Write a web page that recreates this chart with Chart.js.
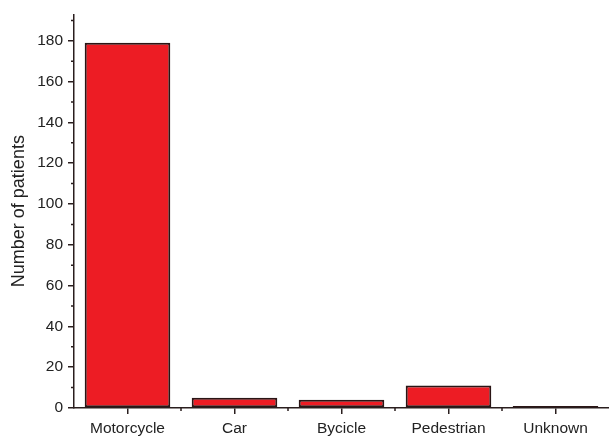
<!DOCTYPE html>
<html>
<head>
<meta charset="utf-8">
<script src="https://cdn.jsdelivr.net/npm/chart.js@4"></script>
<style>
  html, body { margin: 0; padding: 0; background: #fff; }
  #wrap { width: 609px; height: 437px; position: relative; }
</style>
</head>
<body>
<div id="wrap"><canvas id="barChart"></canvas></div>
<script>
var categories = ['Motorcycle', 'Car', 'Bycicle', 'Pedestrian', 'Unknown'];
var patients = [179, 5, 4, 11, 1];
var yMinorTicks = [10, 30, 50, 70, 90, 110, 130, 150, 170, 190];

var axisColor = '#2a1e1e';
var textColor = '#222222';

// small ticks between the labelled ones, as in the original plot
var minorTicks = {
  id: 'minorTicks',
  afterDraw: function (chart) {
    var ctx = chart.ctx;
    var x = chart.scales.x, y = chart.scales.y;
    ctx.save();
    ctx.strokeStyle = axisColor;
    ctx.lineWidth = 1.5;
    ctx.beginPath();
    yMinorTicks.forEach(function (v) {
      var py = y.getPixelForValue(v);
      ctx.moveTo(y.right - 3, py);
      ctx.lineTo(y.right, py);
    });
    for (var i = 1; i < categories.length; i++) {
      var px = (x.getPixelForValue(i - 1) + x.getPixelForValue(i)) / 2;
      ctx.moveTo(px, x.top);
      ctx.lineTo(px, x.top + 3);
    }
    ctx.stroke();
    ctx.restore();
  }
};

var ctxBar = document.getElementById('barChart').getContext('2d');

var barChart = new Chart(ctxBar, {
  type: 'bar',
  data: {
    labels: categories,
    datasets: [{
      label: 'Number of patients',
      data: patients,
      backgroundColor: '#ed1c24',
      borderColor: '#2a1515',
      borderWidth: 2,
      borderSkipped: false,
      barPercentage: 0.8,
      categoryPercentage: 1.0
    }]
  },
  options: {
    responsive: true,
    maintainAspectRatio: false,
    animation: false,
    layout: { padding: { top: 13, right: -3, left: 0, bottom: 0 } },
    plugins: {
      legend: { display: false },
      tooltip: { enabled: false }
    },
    scales: {
      x: {
        offset: true,
        grid: {
          display: true,
          offset: false,
          drawOnChartArea: false,
          drawTicks: true,
          tickLength: 6,
          tickColor: axisColor,
          lineWidth: 1.5
        },
        border: { display: true, color: axisColor, width: 1.5 },
        ticks: {
          color: textColor,
          padding: 5,
          maxRotation: 0,
          font: { family: 'Liberation Sans, Arial, sans-serif', size: 15.5 }
        },
        afterFit: function (scale) { scale.height = 29; }
      },
      y: {
        min: 0,
        max: 193,
        grid: {
          display: true,
          drawOnChartArea: false,
          drawTicks: true,
          tickLength: 6,
          tickColor: axisColor,
          lineWidth: 1.5
        },
        border: { display: true, color: axisColor, width: 1.5 },
        title: {
          display: true,
          text: 'Number of patients',
          color: textColor,
          padding: { top: 8, bottom: 4 },
          font: { family: 'Liberation Sans, Arial, sans-serif', size: 18 }
        },
        ticks: {
          stepSize: 20,
          includeBounds: false,
          color: textColor,
          padding: 5,
          font: { family: 'Liberation Sans, Arial, sans-serif', size: 15.5 }
        },
        afterFit: function (scale) { scale.width = 74; }
      }
    }
  },
  plugins: [minorTicks]
});
</script>
</body>
</html>
